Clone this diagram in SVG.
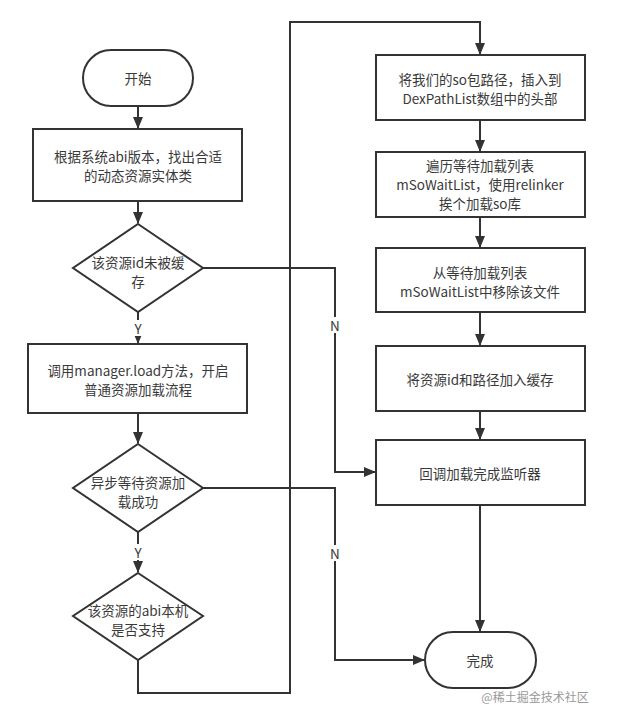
<svg xmlns="http://www.w3.org/2000/svg" width="627" height="714" viewBox="0 0 627 714">
<style>
.s{fill:#fff;stroke:#333;stroke-width:2}
.c{fill:none;stroke:#333;stroke-width:2}
text{font-family:"Noto Sans CJK SC","Liberation Sans",sans-serif;font-size:13.5px;fill:#3a3a3a;text-anchor:middle;dominant-baseline:central}
.lb{fill:#fff;stroke:none}
.wm{fill:#999;font-size:12px}
</style>
<defs>
<marker id="a" viewBox="0 0 12 10" refX="11" refY="5" markerWidth="12" markerHeight="10" markerUnits="userSpaceOnUse" orient="auto">
<path d="M0,0 L12,5 L0,10 Z" fill="#333"/>
</marker>
</defs>
<rect width="627" height="714" fill="#fff"/>
<g id="connectors">
<path class="c" d="M138,106 V128" marker-end="url(#a)"/>
<path class="c" d="M138,201 V223" marker-end="url(#a)"/>
<path class="c" d="M138,312 V343" marker-end="url(#a)"/>
<path class="c" d="M138,413 V443" marker-end="url(#a)"/>
<path class="c" d="M138,532 V572" marker-end="url(#a)"/>
<path class="c" d="M138,660 V693 H290 V22 H480 V54" marker-end="url(#a)"/>
<path class="c" d="M480,120 V151" marker-end="url(#a)"/>
<path class="c" d="M480,217 V247" marker-end="url(#a)"/>
<path class="c" d="M480,312 V345" marker-end="url(#a)"/>
<path class="c" d="M480,411 V439" marker-end="url(#a)"/>
<path class="c" d="M480,505 V631" marker-end="url(#a)"/>
<path class="c" d="M203,268 H335 V472 H375" marker-end="url(#a)"/>
<path class="c" d="M203,488 H335 V660 H424" marker-end="url(#a)"/>
<rect class="lb" x="131" y="320" width="14" height="16"/>
<text x="138" y="328">Y</text>
<rect class="lb" x="131" y="544" width="14" height="16"/>
<text x="138" y="552">Y</text>
<rect class="lb" x="328" y="317" width="14" height="16"/>
<text x="335" y="325">N</text>
<rect class="lb" x="328" y="545" width="14" height="16"/>
<text x="335" y="553">N</text>
</g>
<g id="start">
<rect class="s" x="83" y="50" width="110" height="56" rx="28"/>
<text x="138" y="78">开始</text>
</g>
<g id="findClass">
<rect class="s" x="33" y="129" width="209" height="72"/>
<text x="138" y="156"><tspan x="138">根据系统abi版本，找出合适</tspan><tspan x="138" dy="19">的动态资源实体类</tspan></text>
</g>
<g id="cached">
<path class="s" d="M138,224 L203,268 L138,312 L73,268 Z"/>
<text x="138" y="262"><tspan x="138">该资源id未被缓</tspan><tspan x="138" dy="19">存</tspan></text>
</g>
<g id="load">
<rect class="s" x="28" y="344" width="219" height="69"/>
<text x="138" y="370"><tspan x="138">调用manager.load方法，开启</tspan><tspan x="138" dy="19">普通资源加载流程</tspan></text>
</g>
<g id="asyncWait">
<path class="s" d="M138,444 L203,488 L138,532 L73,488 Z"/>
<text x="138" y="482"><tspan x="138">异步等待资源加</tspan><tspan x="138" dy="19">载成功</tspan></text>
</g>
<g id="abiSupport">
<path class="s" d="M138,573 L203,616 L138,660 L73,616 Z"/>
<text x="138" y="610"><tspan x="138">该资源的abi本机</tspan><tspan x="138" dy="19">是否支持</tspan></text>
</g>
<g id="insertPath">
<rect class="s" x="376" y="55" width="209" height="65"/>
<text x="480" y="79"><tspan x="480">将我们的so包路径，插入到</tspan><tspan x="480" dy="19">DexPathList数组中的头部</tspan></text>
</g>
<g id="traverse">
<rect class="s" x="376" y="152" width="209" height="65"/>
<text x="480" y="165"><tspan x="480">遍历等待加载列表</tspan><tspan x="480" dy="19">mSoWaitList，使用relinker</tspan><tspan x="480" dy="19">挨个加载so库</tspan></text>
</g>
<g id="remove">
<rect class="s" x="376" y="248" width="209" height="64"/>
<text x="480" y="272"><tspan x="480">从等待加载列表</tspan><tspan x="480" dy="19">mSoWaitList中移除该文件</tspan></text>
</g>
<g id="cache">
<rect class="s" x="376" y="346" width="209" height="65"/>
<text x="480" y="379">将资源id和路径加入缓存</text>
</g>
<g id="callback">
<rect class="s" x="376" y="440" width="209" height="65"/>
<text x="480" y="473">回调加载完成监听器</text>
</g>
<g id="done">
<rect class="s" x="425" y="632" width="111" height="56" rx="28"/>
<text x="480" y="660">完成</text>
</g>
<text class="wm" x="535" y="696">@稀土掘金技术社区</text>
</svg>
